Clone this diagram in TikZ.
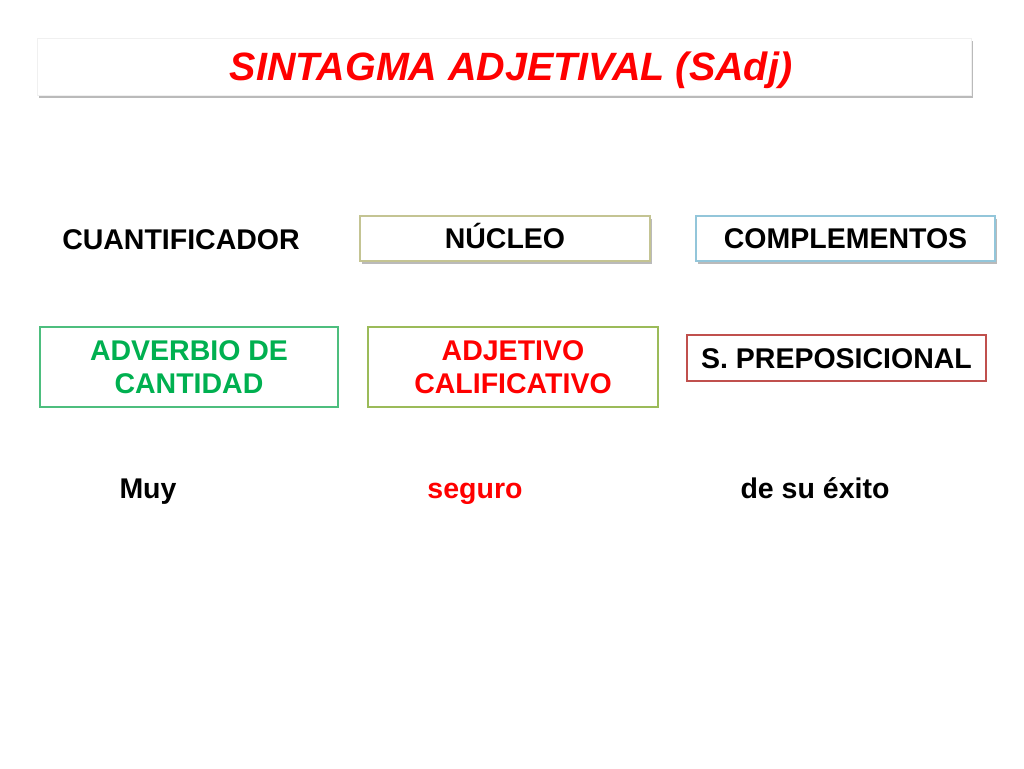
\documentclass[tikz,border=0pt]{standalone}
\usepackage{fontspec}
\setmainfont{Liberation Sans}
\usepackage{tikz}
\usetikzlibrary{positioning, shadows}

\definecolor{titlered}{HTML}{FF0000}
\definecolor{adjgreen}{HTML}{00B050}
\definecolor{advborder}{HTML}{4DBE7E}
\definecolor{adjborder}{HTML}{9BBB59}
\definecolor{prepborder}{HTML}{C0504D}
\definecolor{nucborder}{HTML}{C4C493}
\definecolor{compborder}{HTML}{93C6DA}

\begin{document}
\begin{tikzpicture}[
    x=1pt, y=-1pt,
    labelbox/.style={rectangle, draw, fill=white, align=center, inner sep=0pt, text height=20.5pt, text depth=0pt, font=\fontsize{28.5}{33}\selectfont\bfseries},
    twolines/.style={labelbox, text height=53.5pt, minimum height=80pt},
    shadowed/.style={labelbox, drop shadow={shadow xshift=1.5pt, shadow yshift=-3pt, fill=black!45, opacity=0.6}},
    word/.style={anchor=base, inner sep=0pt, font=\fontsize{28.5}{33}\selectfont\bfseries}
]

\useasboundingbox (0,0) rectangle (1024,768);

% Title
\node[shadowed, draw=black!6, minimum width=934pt, minimum height=57pt, text height=28pt,
      text=titlered, font=\fontsize{39.5}{44}\selectfont\bfseries\itshape] (title) at (504,66.5) {\hspace*{14pt}SINTAGMA ADJETIVAL (SAdj)};

% Top row
\node[word] (cuant) at (181,249) {CUANTIFICADOR};
\node[shadowed, draw=nucborder, line width=1.2pt, minimum width=290pt, minimum height=45pt] (nucleo) at (505,238.5) {NÚCLEO};
\node[shadowed, draw=compborder, line width=1.2pt, minimum width=299pt, minimum height=45pt] (compl) at (845.5,238.5) {COMPLEMENTOS};

% Second row
\node[twolines, draw=advborder, line width=1.4pt, text=adjgreen, minimum width=298pt] (adverbio) at (189,367) {ADVERBIO DE\\CANTIDAD};
\node[twolines, draw=adjborder, line width=2.5pt, text=titlered, minimum width=290pt] (adjetivo) at (513,367) {ADJETIVO\\CALIFICATIVO};
\node[labelbox, draw=prepborder, line width=2.5pt, minimum width=299pt, minimum height=46pt] (prep) at (836.5,358) {S. PREPOSICIONAL};

% Example
\node[word] (muy) at (148,498) {Muy};
\node[word, text=titlered] (seguro) at (475,498) {seguro};
\node[word] (exito) at (815,498) {de su éxito};

\end{tikzpicture}
\end{document}
